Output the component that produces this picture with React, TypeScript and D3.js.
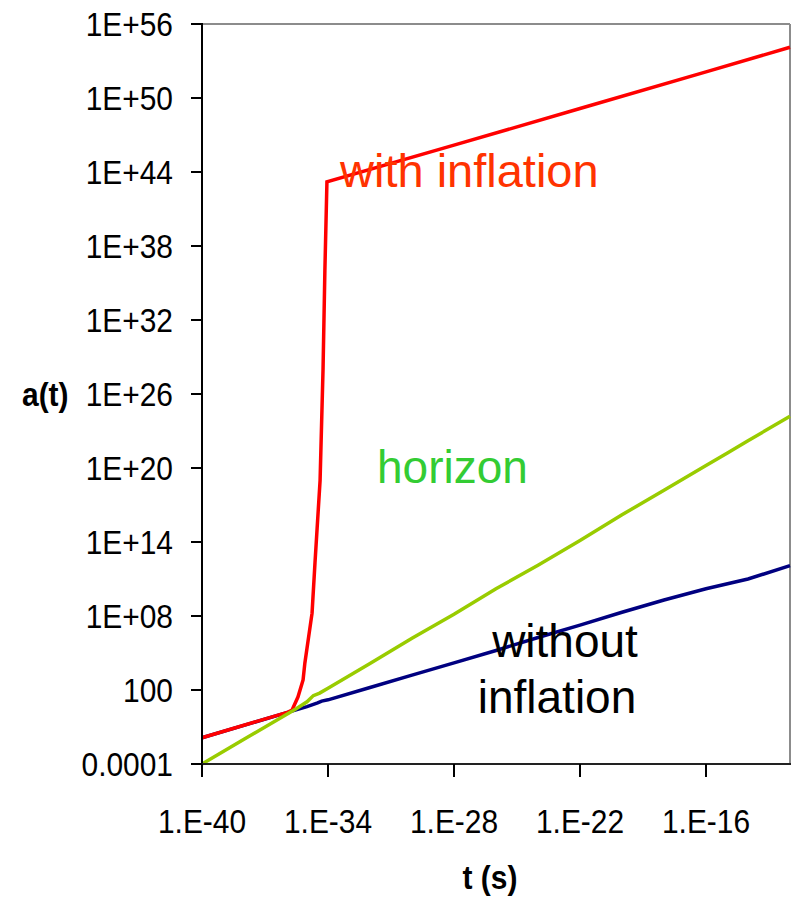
import React from "react";
import * as d3 from "d3";

// time (s) and scale factor a(t)
const redT = [1e-40, 1.26e-36, 1.95e-36, 3.7e-36, 6.5e-36, 7.9e-36, 1.74e-35, 2.4e-35, 4.2e-35, 5.8e-35, 7.1e-35, 8.9e-35, 1e-28, 1e-22, 1e-16, 1e-12];
const redA = [0.0135, 1.6, 2.4, 27, 650, 1.5e4, 1.7e8, 2e12, 1e19, 1e28, 1e36, 1.6e43, 1.5e46, 1.4e49, 1.3e52, 1.3e54];

const greenT = [1e-40, 1e-38, 1e-36, 3.2e-36, 1e-35, 2e-35, 4e-35, 1e-34, 1e-32, 1e-30, 1e-28, 1e-26, 1e-24, 1e-22, 1e-20, 1e-18, 1e-16, 1e-15, 1e-14, 1e-12];
const greenA = [1e-4, 0.01, 1, 3.2, 11, 35, 56, 140, 1.4e4, 1.6e6, 1.4e8, 1.6e10, 1.3e12, 1.3e14, 1.6e16, 1.6e18, 1.6e20, 1.6e21, 1.6e22, 1.6e24];

const blueT = [1e-40, 1e-36, 1e-35, 3.2e-35, 5e-35, 1e-34, 1e-32, 1e-30, 1e-28, 1e-26, 1e-24, 1e-22, 1e-20, 1e-18, 1e-16, 1e-14, 1e-12];
const blueA = [0.0135, 1.4, 4.5, 9, 12.6, 16, 160, 1600, 1.6e4, 1.6e5, 1.8e6, 1.8e7, 2e8, 2e9, 1.6e10, 1e11, 1.2e12];

const xTicks = [1e-40, 1e-34, 1e-28, 1e-22, 1e-16];
const xTickLabels = ["1.E-40", "1.E-34", "1.E-28", "1.E-22", "1.E-16"];
const yTicks = [1e-4, 1e2, 1e8, 1e14, 1e20, 1e26, 1e32, 1e38, 1e44, 1e50, 1e56];
const yTickLabels = ["0.0001", "100", "1E+08", "1E+14", "1E+20", "1E+26", "1E+32", "1E+38", "1E+44", "1E+50", "1E+56"];

const W = 794;
const H = 920;
const m = { left: 202, right: 4, top: 24, bottom: 156 };

const App = () => {
  const x = d3.scaleLog().domain([1e-40, 1e-12]).range([m.left, W - m.right]);
  const y = d3.scaleLog().domain([1e-4, 1e56]).range([H - m.bottom, m.top]);

  const line = (ts: number[], as: number[]) =>
    d3
      .line<number>()
      .x((t) => x(t))
      .y((_, i) => y(as[i]))
      .curve(d3.curveLinear)(ts) || "";

  const font = "Arial, 'Liberation Sans', sans-serif";
  const x0 = x.range()[0];
  const x1 = x.range()[1];
  const y0 = y.range()[0];
  const y1 = y.range()[1];

  return (
    <svg
      width={W}
      height={H}
      style={{ position: "absolute", left: 0, top: 0, background: "#fff" }}
      fontFamily={font}
    >
      {/* frame */}
      <line x1={x0} x2={x1} y1={y1} y2={y1} stroke="#8c8c8c" strokeWidth={2} />
      <line x1={x1} x2={x1} y1={y1} y2={y0} stroke="#8c8c8c" strokeWidth={2} />

      {/* series */}
      <path d={line(blueT, blueA)} fill="none" stroke="#000080" strokeWidth={3.5} />
      <path d={line(redT, redA)} fill="none" stroke="#ff0000" strokeWidth={3.5} />
      <path d={line(greenT, greenA)} fill="none" stroke="#99cc00" strokeWidth={3.5} />

      {/* axes */}
      <line x1={x0} x2={x0} y1={y1 - 1} y2={y0 + 1} stroke="#000" strokeWidth={2} />
      <line x1={x0} x2={x1 + 1} y1={y0} y2={y0} stroke="#222" strokeWidth={2} />
      {yTicks.map((v, i) => (
        <g key={"y" + i}>
          <line x1={x0 - 11} x2={x0} y1={y(v)} y2={y(v)} stroke="#000" strokeWidth={2} />
          <text
            transform={`translate(173,${y(v) + 12}) scale(0.88,1)`}
            textAnchor="end"
            fontSize={34}
            fill="#000"
          >
            {yTickLabels[i]}
          </text>
        </g>
      ))}
      {xTicks.map((v, i) => (
        <g key={"x" + i}>
          <line x1={x(v)} x2={x(v)} y1={y0} y2={y0 + 13} stroke="#000" strokeWidth={2} />
          <text
            transform={`translate(${x(v)},833) scale(0.88,1)`}
            textAnchor="middle"
            fontSize={34}
            fill="#000"
          >
            {xTickLabels[i]}
          </text>
        </g>
      ))}

      {/* axis titles */}
      <text transform="translate(22,406) scale(0.88,1)" fontSize={34} fontWeight="bold" fill="#000">
        a(t)
      </text>
      <text
        transform="translate(490,889) scale(0.88,1)"
        textAnchor="middle"
        fontSize={34}
        fontWeight="bold"
        fill="#000"
      >
        t (s)
      </text>

      {/* labels */}
      <text x={340} y={187} fontSize={47} fill="#ff3300">
        with inflation
      </text>
      <text x={377} y={483} fontSize={46} fill="#33cc33">
        horizon
      </text>
      <text x={565} y={657} textAnchor="middle" fontSize={46} fill="#000">
        without
      </text>
      <text x={557} y={713} textAnchor="middle" fontSize={46} fill="#000">
        inflation
      </text>
    </svg>
  );
};

export default App;
